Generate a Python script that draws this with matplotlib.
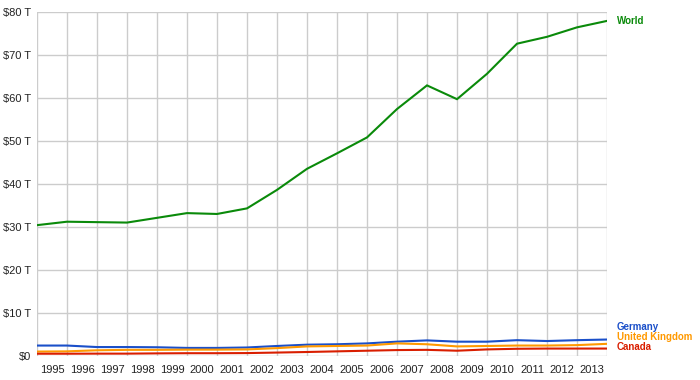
import numpy as np
import matplotlib
matplotlib.use('Agg')
import matplotlib.pyplot as plt

plt.rcParams['font.family'] = ['Liberation Sans', 'DejaVu Sans']

#
#  GDP data (trillions of USD)
#
years = list(range(1995, 2015))
world = [30.5, 31.3, 31.2, 31.1, 32.2, 33.3, 33.1, 34.4, 38.7, 43.6,
         47.2, 50.9, 57.5, 63.0, 59.8, 65.7, 72.7, 74.3, 76.5, 78.0]
germany = [2.5, 2.5, 2.15, 2.15, 2.1, 1.95, 1.95, 2.05, 2.4, 2.7,
           2.8, 3.0, 3.4, 3.7, 3.4, 3.4, 3.75, 3.55, 3.75, 3.9]
uk = [1.1, 1.15, 1.4, 1.5, 1.5, 1.55, 1.55, 1.6, 1.9, 2.3,
      2.4, 2.5, 3.0, 2.8, 2.3, 2.4, 2.5, 2.5, 2.6, 2.9]
canada = [0.6, 0.6, 0.62, 0.62, 0.68, 0.72, 0.72, 0.75, 0.87, 1.0,
          1.15, 1.3, 1.45, 1.5, 1.3, 1.6, 1.75, 1.8, 1.8, 1.8]

series = [('World', world, '#0a8a0a'),
          ('Germany', germany, '#1a4fc9'),
          ('United Kingdom', uk, '#ff9900'),
          ('Canada', canada, '#d91e00')]

label_years = list(range(1995, 2014))
y_ticks = list(range(0, 90, 10))

fig = plt.figure(figsize=(7, 3.8), dpi=100)
ax = fig.add_axes([37 / 700, 1 - 356.3 / 380, 570 / 700, 344 / 380])

for name, vals, color in series:
    ax.plot(years, vals, color=color, linewidth=1.5, solid_joinstyle='miter')

ax.set_xlim(1995, 2014)
ax.set_ylim(0, 80)

# grid lines at each year, labels centred between them
ax.set_xticks(years)
ax.set_xticks([y + 0.5 for y in label_years], minor=True)
ax.set_xticklabels([])
ax.set_xticklabels([str(y) for y in label_years], minor=True)
ax.set_yticks(y_ticks)
ax.set_yticklabels(['$0'] + ['$%d T' % v for v in y_ticks[1:]])

ax.tick_params(axis='both', which='both', length=0, labelsize=8, colors='#222222')
ax.tick_params(axis='x', which='minor', pad=6)
ax.tick_params(axis='y', pad=4)
ax.grid(True, which='major', color='#cccccc', linewidth=1)
for sp in ax.spines.values():
    sp.set_visible(False)
ax.set_axisbelow(True)

# end labels on the right
label_pos = {'World': 78.0, 'Germany': 6.7, 'United Kingdom': 4.4, 'Canada': 2.05}
for name, vals, color in series:
    ax.annotate(name, xy=(1.0, label_pos[name]), xycoords=('axes fraction', 'data'),
                xytext=(7, 0), textcoords='offset points', color=color,
                fontsize=7, fontweight='bold', va='center', ha='left',
                annotation_clip=False)

fig.savefig('out.png', dpi=100)
